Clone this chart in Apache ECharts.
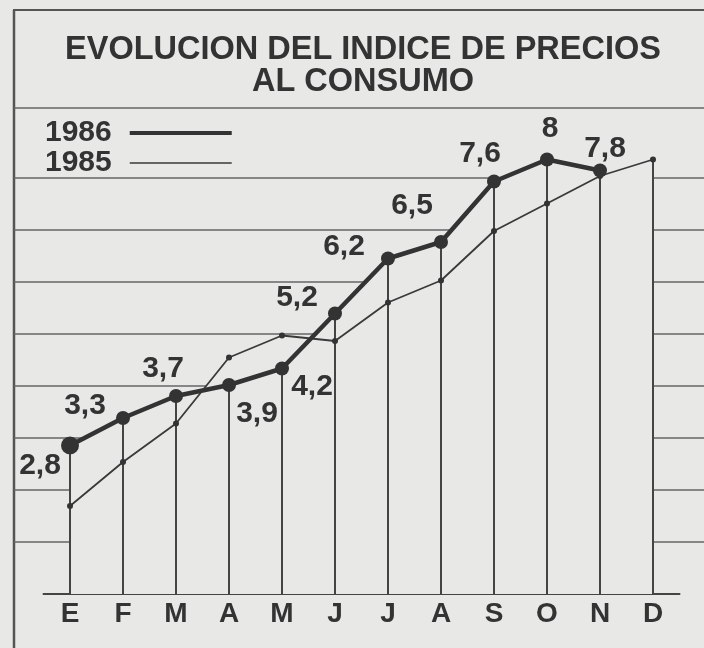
<!DOCTYPE html>
<html><head><meta charset="utf-8">
<script src="https://cdn.jsdelivr.net/npm/echarts@6/dist/echarts.min.js"></script>
<style>html,body{margin:0;padding:0;background:#e8e8e6;}#c{width:704px;height:648px;}</style>
</head><body><div id="c"></div>
<script>
// ---- data ----
const months = ['E','F','M','A','M','J','J','A','S','O','N','D'];
const v1986 = [2.8, 3.3, 3.7, 3.9, 4.2, 5.2, 6.2, 6.5, 7.6, 8.0, 7.8, null];
const v1985 = [1.7, 2.5, 3.2, 4.4, 4.8, 4.7, 5.4, 5.8, 6.7, 7.2, 7.7, 8.0];
const seriesNames = ['1986', '1985'];
const titleText = 'EVOLUCION DEL INDICE DE PRECIOS\nAL CONSUMO';

// ---- layout / style (not data) ----
const labelOffsets = [[-30,20],[-38,-12],[-13,-27],[28,29],[30,18],[-38,-16],[-44,-12],[-29,-36],[-14,-28],[3,-31],[5,-22],[0,0]];
const FONT = "'Liberation Sans', Arial, Helvetica, sans-serif";
const INK = '#333';
const BG = '#e8e8e6';

const dropValues = months.map((_, i) => v1986[i] != null ? v1986[i] : v1985[i]);
const fmt = v => String(v).replace('.', ',');

const chart = echarts.init(document.getElementById('c'), null, {renderer: 'canvas'});
chart.setOption({
  animation: false,
  backgroundColor: BG,
  title: {
    text: titleText, left: 358, top: 29, textAlign: 'center',
    textStyle: {fontFamily: FONT, fontSize: 32.5, fontWeight: 'bold', color: INK, lineHeight: 32}
  },
  legend: {
    orient: 'vertical', left: 40, top: 113, align: 'right',
    itemWidth: 102, itemHeight: 14, itemGap: 0, selectedMode: false,
    data: [
      {name: seriesNames[0], itemStyle: {opacity: 0}, lineStyle: {width: 4, color: '#333'}},
      {name: seriesNames[1], itemStyle: {opacity: 0}, lineStyle: {width: 1.6, color: '#3a3a3a'}}
    ],
    textStyle: {fontFamily: FONT, fontSize: 30, fontWeight: 'bold', color: INK, lineHeight: 28, padding: [0, 13, 0, 0]}
  },
  graphic: [
    {type: 'line', shape: {x1: 13, y1: 10, x2: 704, y2: 10}, style: {stroke: '#555', lineWidth: 2}},
    {type: 'line', shape: {x1: 14, y1: 10, x2: 14, y2: 648}, style: {stroke: '#555', lineWidth: 2.5}},
    {type: 'line', shape: {x1: 14, y1: 108, x2: 704, y2: 108}, style: {stroke: '#666', lineWidth: 1.5}}
  ],
  grid: [
    {left: 43.5, width: 636, top: 44, bottom: 54},
    {left: 14, right: 0, top: 178, bottom: 54}
  ],
  xAxis: [
    {type: 'category', gridIndex: 0, data: months, boundaryGap: true,
     axisLine: {lineStyle: {color: '#444', width: 2}}, axisTick: {show: false},
     axisLabel: {fontFamily: FONT, fontSize: 28, fontWeight: 'bold', color: INK, margin: 6, interval: 0}},
    {type: 'value', gridIndex: 1, show: false, min: 0, max: 1}
  ],
  yAxis: [
    {type: 'value', gridIndex: 0, min: 0.1, max: 10.1, show: false},
    {type: 'value', gridIndex: 1, min: 0, max: 8, interval: 1,
     axisLine: {show: false}, axisTick: {show: false}, axisLabel: {show: false},
     splitLine: {show: true, showMinLine: false, lineStyle: {color: '#666', width: 1.5}}}
  ],
  series: [
    {name: 'a1985', type: 'line', data: v1985, symbol: 'none', z: 1, silent: true,
     lineStyle: {width: 0}, areaStyle: {color: BG, opacity: 1, origin: 'start'}},
    {name: 'a1986', type: 'line', data: v1986, symbol: 'none', z: 1, silent: true,
     lineStyle: {width: 0}, areaStyle: {color: BG, opacity: 1, origin: 'start'}},
    {name: 'drops', type: 'bar', data: dropValues, barWidth: 2, z: 2, silent: true,
     itemStyle: {color: '#444'}},
    {name: seriesNames[1], type: 'line', data: v1985, z: 3, symbol: 'circle', symbolSize: 6,
     lineStyle: {color: '#3a3a3a', width: 1.8}, itemStyle: {color: '#333'}},
    {name: seriesNames[0], type: 'line', z: 4, symbol: 'circle',
     symbolSize: (v, p) => p.dataIndex === 0 ? 18 : 14,
     data: v1986.map((v, i) => ({value: v, label: {offset: labelOffsets[i]}})),
     lineStyle: {color: '#333', width: 4.5}, itemStyle: {color: '#333'},
     label: {show: true, position: 'inside', formatter: p => fmt(p.value),
             fontFamily: FONT, fontSize: 30, fontWeight: 'bold', color: INK}}
  ]
});
</script></body></html>
